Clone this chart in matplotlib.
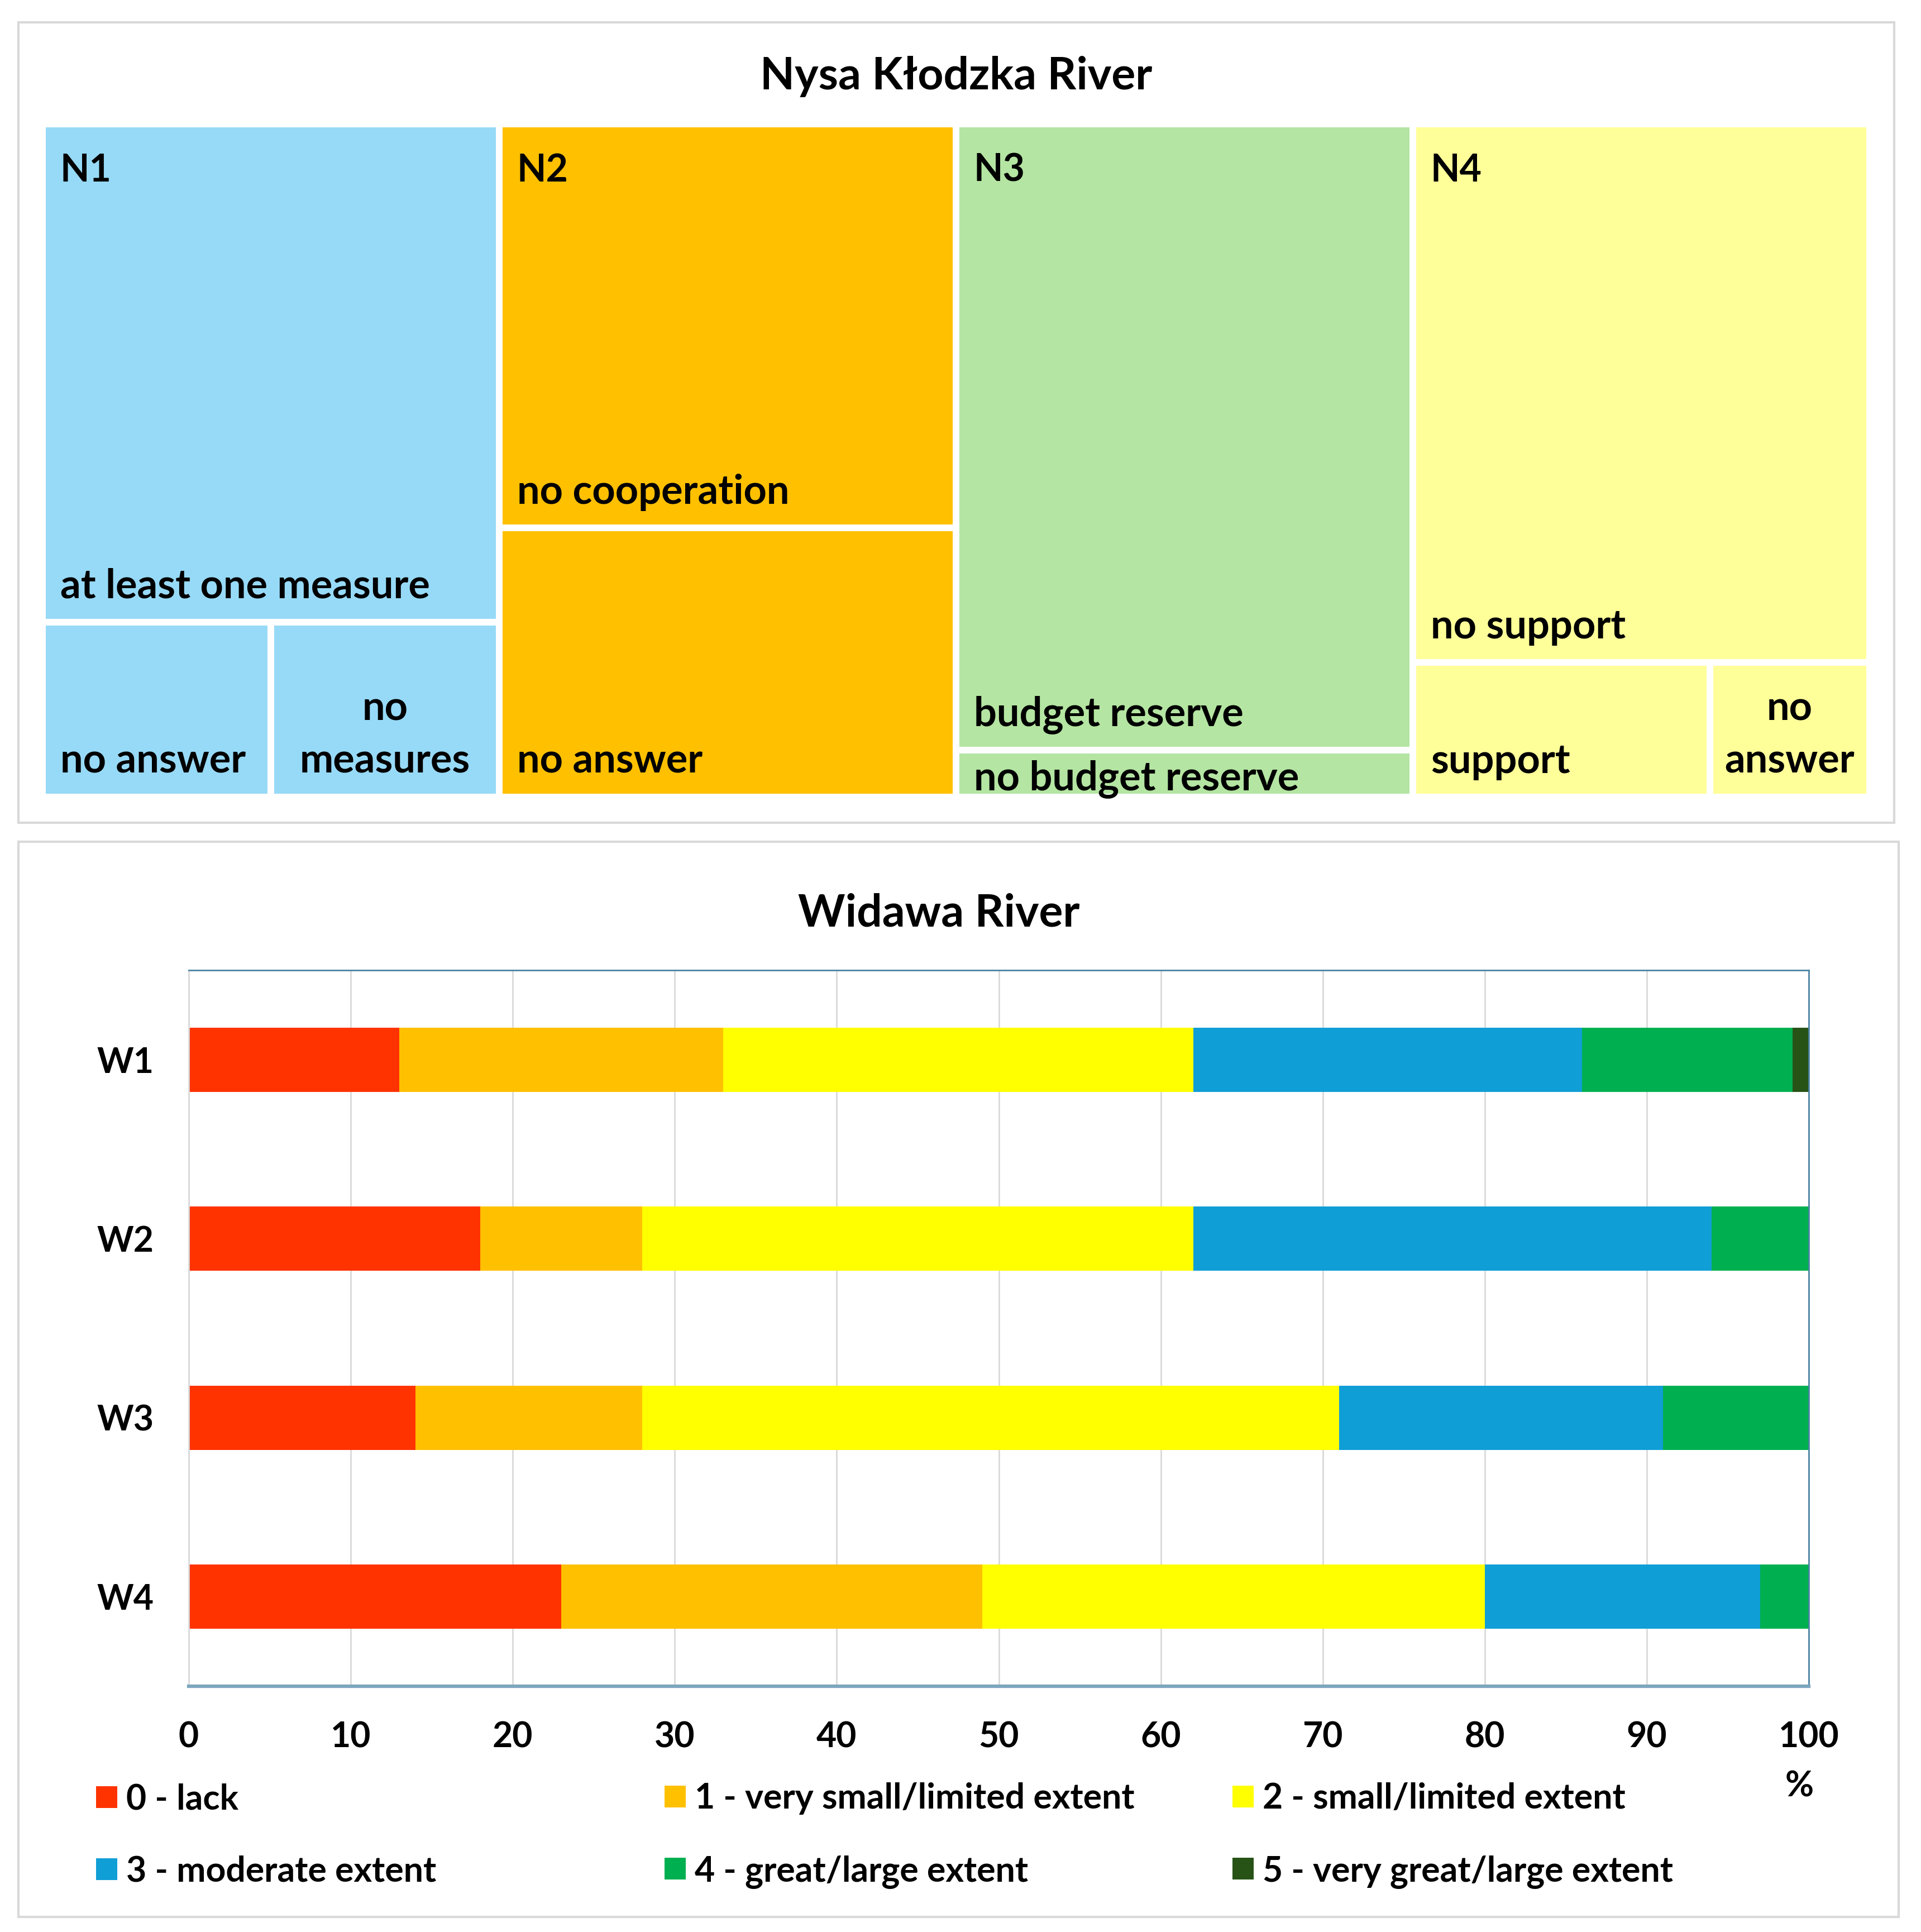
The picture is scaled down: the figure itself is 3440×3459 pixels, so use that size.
import numpy as np
import matplotlib
matplotlib.use("Agg")
import matplotlib.pyplot as plt
from matplotlib.patches import Rectangle
from matplotlib import font_manager

# pick a sans family that really has a bold face installed
bold_fams = {f.name for f in font_manager.fontManager.ttflist
             if f.weight in (700, 'bold') or str(f.weight) == '700'}
family = 'DejaVu Sans'
for cand in ['Lato', 'Noto Sans', 'Open Sans', 'Roboto', 'Liberation Sans']:
    if cand in bold_fams:
        family = cand
        break
plt.rcParams['font.family'] = [family, 'DejaVu Sans']

# Nysa Klodzka River - treemap, share of answers (%) in each question
groups = ['N1', 'N2', 'N3', 'N4']
group_colors = ['#97DAF7', '#FFC000', '#B4E5A2', '#FFFF99']
n_labels = [
    ['at least one measure', 'no answer', 'no\nmeasures'],
    ['no cooperation', 'no answer'],
    ['budget reserve', 'no budget reserve'],
    ['no support', 'support', 'no\nanswer'],
]
n_values = [
    [74, 13, 13],
    [60, 40],
    [93, 7],
    [80, 13, 7],
]

# Widawa River - stacked bars (%)
w_cats = ['W1', 'W2', 'W3', 'W4']
levels = ['0 - lack', '1 - very small/limited extent', '2 - small/limited extent',
          '3 - moderate extent', '4 - great/large extent', '5 - very great/large extent']
level_colors = ['#FF3300', '#FFC000', '#FFFF00', '#109ED6', '#00B050', '#275317']
lack = [13, 18, 14, 23]
very_small = [20, 10, 14, 26]
small = [29, 34, 43, 31]
moderate = [24, 32, 20, 17]
great = [13, 6, 9, 3]
very_great = [1, 0, 0, 0]

W, H = 3440, 3459
fig = plt.figure(figsize=(W / 100, H / 100), dpi=100)


def px_box(x0, y0, x1, y1):
    return [x0 / W, 1 - y1 / H, (x1 - x0) / W, (y1 - y0) / H]


# panel frames
for (x0, y0, x1, y1) in [(33, 40, 3392, 1473), (33, 1507, 3400, 3432)]:
    fig.add_artist(Rectangle((x0 / W, 1 - y1 / H), (x1 - x0) / W, (y1 - y0) / H,
                             transform=fig.transFigure, fill=False,
                             edgecolor='#D9D9D9', linewidth=3))

# ---- treemap ----
axt = fig.add_axes(px_box(76, 222, 3348, 1427))
axt.set_xlim(0, sum(sum(v) for v in n_values))
axt.set_ylim(0, 1)
axt.axis('off')
axh_px = 1427 - 222
lab_font = dict(fontsize=52, fontweight='bold', color='black')

x0 = 0
for g, col, labs, vals in zip(groups, group_colors, n_labels, n_values):
    tot = sum(vals)
    h0 = vals[0] / tot
    rects = [(x0, 1 - h0, tot, h0)]
    rest = vals[1:]
    xr = x0
    for v in rest:
        w = tot * v / sum(rest)
        rects.append((xr, 0, w, 1 - h0))
        xr += w
    for (rx, ry, rw, rh), lab in zip(rects, labs):
        axt.add_patch(Rectangle((rx, ry), rw, rh, facecolor=col,
                                edgecolor='white', linewidth=8.6))
        if '\n' in lab:
            axt.annotate(lab, (rx + rw / 2, ry), xytext=(0, 31),
                         textcoords='offset points', ha='center', va='baseline',
                         linespacing=1.5, **lab_font)
        else:
            dy = 31 if rh * axh_px > 150 else 9
            axt.annotate(lab, (rx, ry), xytext=(23, dy), textcoords='offset points',
                         ha='left', va='baseline', **lab_font)
    axt.annotate(g, (x0, 1), xytext=(23, -74), textcoords='offset points',
                 ha='left', va='baseline', fontsize=49, fontweight='bold')
    x0 += tot

fig.text(1712 / W, 1 - 137 / H, 'Nysa Kłodzka River', ha='center', va='center',
         fontsize=58, fontweight='bold')

# ---- stacked bars ----
axb = fig.add_axes(px_box(338, 1737, 3239, 3019))
y = np.arange(len(w_cats))
series = [lack, very_small, small, moderate, great, very_great]
left = np.zeros(len(w_cats))
for vals, lab, col in zip(series, levels, level_colors):
    axb.barh(y, vals, left=left, height=0.36, color=col, label=lab)
    left += np.array(vals)

axb.set_xlim(0, 100)
axb.set_ylim(3.5, -0.5)
axb.set_xticks(np.arange(0, 101, 10))
axb.set_yticks(y, w_cats)
axb.tick_params(length=0, labelsize=45, pad=45)
for t in axb.get_xticklabels() + axb.get_yticklabels():
    t.set_fontweight('bold')
axb.grid(axis='x', color='#D9D9D9', linewidth=2)
axb.set_axisbelow(True)
axb.spines['top'].set_color('#4C83A4')
axb.spines['top'].set_linewidth(2)
axb.spines['right'].set_color('#4C83A4')
axb.spines['right'].set_linewidth(2)
axb.spines['left'].set_color('#D9D9D9')
axb.spines['left'].set_linewidth(2)
axb.spines['bottom'].set_color('#7DA6BF')
axb.spines['bottom'].set_linewidth(4.5)

axb.annotate('%', xy=(100, 0), xycoords=('data', 'axes fraction'), xytext=(-12, -129),
             textcoords='offset points', ha='center', va='center',
             fontsize=45, fontweight='bold')

fig.text(1681 / W, 1 - 1635 / H, 'Widawa River', ha='center', va='center',
         fontsize=58, fontweight='bold')

handles, labels = axb.get_legend_handles_labels()
for i, xpx in enumerate([172, 1190, 2207]):
    fig.legend([handles[i], handles[i + 3]], [labels[i], labels[i + 3]],
               loc='center left', bbox_to_anchor=(xpx / W, 1 - 3286 / H),
               frameon=False, prop={'size': 45, 'weight': 'bold'},
               handlelength=0.6, handleheight=0.6, handletextpad=0.27,
               labelspacing=1.14, borderpad=0, borderaxespad=0)

fig.savefig('out.png', dpi=100)
